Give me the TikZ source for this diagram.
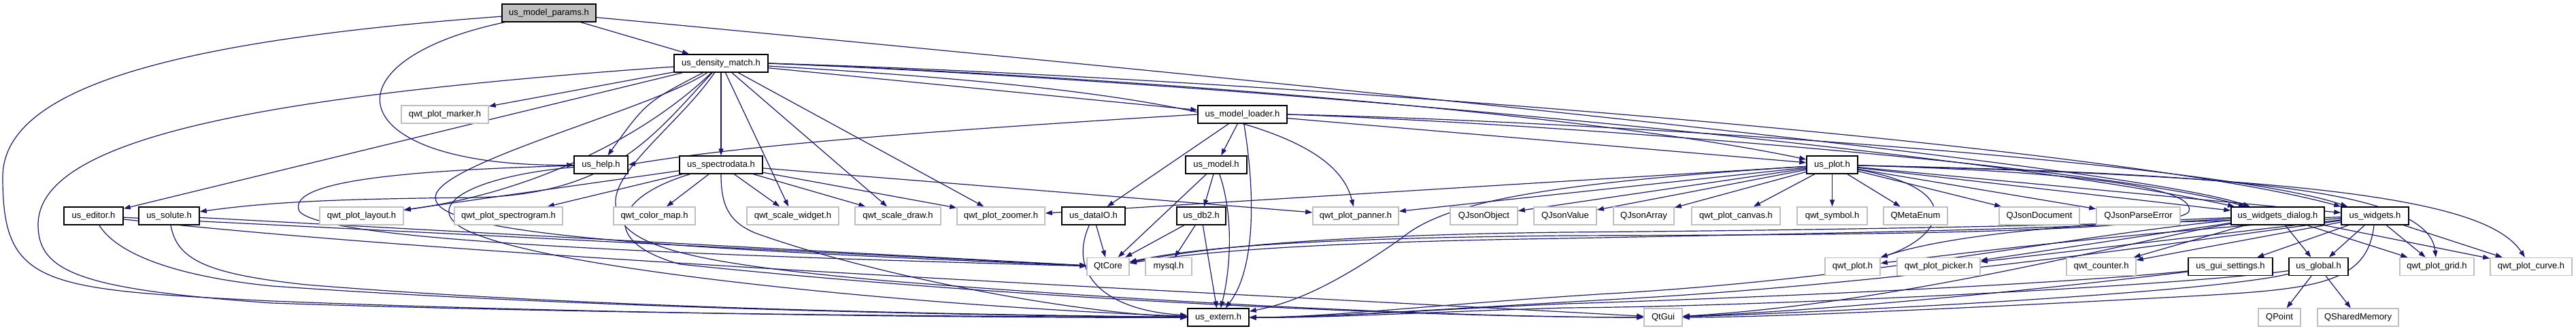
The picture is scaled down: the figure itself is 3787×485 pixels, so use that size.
\documentclass[tikz,border=0pt]{standalone}
\usepackage{fontspec}
\setmainfont{Liberation Sans}
\usetikzlibrary{arrows.meta}
\definecolor{edgecol}{HTML}{191970}
\definecolor{extgrey}{HTML}{BFBFBF}
\definecolor{rootfill}{HTML}{BFBFBF}
\pgfdeclarelayer{back}
\pgfdeclarelayer{bg}
\pgfsetlayers{back,bg,main}
\tikzset{
  nd/.style={rectangle, draw=black, line width=1.5pt, fill=white, minimum height=26pt, inner sep=0pt, font=\fontsize{13}{15}\selectfont},
  xt/.style={nd, draw=extgrey},
  rt/.style={nd, fill=rootfill},
  e/.style={draw=edgecol, line width=1.2pt, -{Triangle[length=10pt,width=7pt]}},
}
\begin{document}
\begin{tikzpicture}[x=1pt,y=-1pt]
\begin{pgfonlayer}{back}
\fill[white] (0,0) rectangle (3787,485);
\end{pgfonlayer}
\useasboundingbox (0,0) rectangle (3787,485);
% rank 0-3
\node[rt, minimum width=138pt] (MP) at (807,19) {us\_model\_params.h};
\node[nd, minimum width=138pt] (DM) at (1060,93) {us\_density\_match.h};
\node[xt, minimum width=128pt] (marker) at (654,168) {qwt\_plot\_marker.h};
\node[nd, minimum width=131pt] (ML) at (1826.5,168) {us\_model\_loader.h};
\node[nd, minimum width=79pt] (help) at (883.5,242) {us\_help.h};
\node[nd, minimum width=122pt] (SD) at (1060,242) {us\_spectrodata.h};
\node[nd, minimum width=90pt] (model) at (1788,242) {us\_model.h};
\node[nd, minimum width=75pt] (plot) at (2693.5,242) {us\_plot.h};
% rank 4
\node[nd, minimum width=87pt] (editor) at (137.5,317) {us\_editor.h};
\node[nd, minimum width=89pt] (solute) at (248.5,317) {us\_solute.h};
\node[xt, minimum width=123pt] (layout) at (531.5,317) {qwt\_plot\_layout.h};
\node[xt, minimum width=159pt] (spectro) at (747.5,317) {qwt\_plot\_spectrogram.h};
\node[xt, minimum width=120pt] (cmap) at (962,317) {qwt\_color\_map.h};
\node[xt, minimum width=135pt] (swidget) at (1165.5,317) {qwt\_scale\_widget.h};
\node[xt, minimum width=126pt] (sdraw) at (1320,317) {qwt\_scale\_draw.h};
\node[xt, minimum width=129pt] (zoomer) at (1471.5,317) {qwt\_plot\_zoomer.h};
\node[nd, minimum width=93pt] (dataIO) at (1607.5,317) {us\_dataIO.h};
\node[nd, minimum width=72pt] (db2) at (1766,317) {us\_db2.h};
\node[xt, minimum width=126pt] (panner) at (1993,317) {qwt\_plot\_panner.h};
\node[xt, minimum width=99pt] (jobj) at (2181.5,317) {QJsonObject};
\node[xt, minimum width=92pt] (jval) at (2301,317) {QJsonValue};
\node[xt, minimum width=89pt] (jarr) at (2416.5,317) {QJsonArray};
\node[xt, minimum width=130pt] (canvas) at (2552,317) {qwt\_plot\_canvas.h};
\node[xt, minimum width=103pt] (symbol) at (2693.5,317) {qwt\_symbol.h};
\node[xt, minimum width=94pt] (menum) at (2816,317) {QMetaEnum};
\node[xt, minimum width=118pt] (jdoc) at (2998,317) {QJsonDocument};
\node[xt, minimum width=123pt] (jerr) at (3143.5,317) {QJsonParseError};
\node[nd, minimum width=137pt] (WD) at (3348.5,317) {us\_widgets\_dialog.h};
\node[nd, minimum width=99pt] (W) at (3491.5,317) {us\_widgets.h};
% rank 5
\node[xt, minimum width=62pt] (QtCore) at (1629,391.5) {QtCore};
\node[xt, minimum width=68pt] (mysql) at (1718,391.5) {mysql.h};
\node[xt, minimum width=81pt] (qplot) at (2723.5,391.5) {qwt\_plot.h};
\node[xt, minimum width=122pt] (picker) at (2850,391.5) {qwt\_plot\_picker.h};
\node[xt, minimum width=102pt] (counter) at (3089,391.5) {qwt\_counter.h};
\node[nd, minimum width=124pt] (gui) at (3279,391.5) {us\_gui\_settings.h};
\node[nd, minimum width=87pt] (global) at (3408.5,391.5) {us\_global.h};
\node[xt, minimum width=109pt] (grid) at (3582.5,391.5) {qwt\_plot\_grid.h};
\node[xt, minimum width=120pt] (curve) at (3721,391.5) {qwt\_plot\_curve.h};
% rank 6
\node[nd, minimum width=90pt] (extern) at (1791,466) {us\_extern.h};
\node[xt, minimum width=56pt] (QtGui) at (2445,466) {QtGui};
\node[xt, minimum width=62pt] (QPoint) at (3351,466) {QPoint};
\node[xt, minimum width=119pt] (QShm) at (3466.5,466) {QSharedMemory};

\begin{pgfonlayer}{bg}
% us_model_params.h
\draw[e] (MP) -- (DM);
\draw[e] (MP) .. controls (470,90) and (500,245) .. (help);
\draw[e] (MP) .. controls (250,60) and (4,130) .. (4,260) .. controls (4,420) and (60,425) .. (400,442) .. controls (900,462) and (1500,467) .. (extern);
\draw[e] (MP) .. controls (2200,150) and (3150,250) .. (WD);
% us_density_match.h
\draw[e] (DM) -- (marker);
\draw[e] (DM) -- (ML);
\draw[e] (DM) .. controls (950,150) .. (help);
\draw[e] (DM) -- (SD);
\draw[e] (DM) -- (editor);
\draw[e] (DM) .. controls (960,200) and (900,285) .. (700,290) .. controls (500,292) and (400,296) .. (solute);
\draw[e] (DM) .. controls (960,190) and (800,280) .. (layout);
\draw[e] (DM) -- (swidget);
\draw[e] (DM) -- (sdraw);
\draw[e] (DM) -- (zoomer);
\draw[e] (DM) .. controls (1700,130) and (1960,180) .. (panner);
\draw[e] (DM.east) .. controls (1700,115) and (2350,170) .. (plot);
\draw[e] (DM.east) .. controls (1800,120) and (2900,220) .. (WD);
\draw[e] (DM.east) .. controls (1800,112) and (3100,210) .. (W);
\draw[e] (DM) .. controls (400,140) and (56,200) .. (56,330) .. controls (56,400) and (120,425) .. (400,445) .. controls (900,462) and (1500,465) .. (extern);
\draw[e] (DM) .. controls (960,160) and (640,240) .. (640,290) .. controls (640,340) and (900,362) .. (QtCore);
\draw[e] (DM) .. controls (1000,180) and (900,250) .. (905,300) .. controls (910,360) and (1000,385) .. (1300,412) .. controls (1800,452) and (2200,466) .. (QtGui);
% us_model_loader.h
\draw[e] (ML.west) .. controls (1400,190) and (1100,212) .. (help.east);
\draw[e] (ML) -- (model);
\draw[e] (ML) -- (dataIO);
\draw[e] (ML) .. controls (1848,300) and (1842,400) .. (extern);
\draw[e] (ML) -- (plot);
\draw[e] (ML.east) .. controls (2300,182) and (3100,245) .. (WD);
\draw[e] (ML.east) .. controls (2300,176) and (3250,235) .. (W);
% us_model.h
\draw[e] (model) -- (QtCore);
\draw[e] (model) -- (db2);
\draw[e] (model) .. controls (1815,320) and (1808,400) .. (extern);
% us_db2.h / us_dataIO.h
\draw[e] (db2) -- (QtCore);
\draw[e] (db2) -- (mysql);
\draw[e] (db2) -- (extern);
\draw[e] (dataIO) -- (QtCore);
\draw[e] (dataIO) .. controls (1570,400) and (1620,455) .. (extern);
% us_spectrodata.h
\draw[e] (SD) -- (layout);
\draw[e] (SD) -- (spectro);
\draw[e] (SD) -- (cmap);
\draw[e] (SD) -- (swidget);
\draw[e] (SD) -- (sdraw);
\draw[e] (SD) -- (zoomer);
\draw[e] (SD) -- (panner);
\draw[e] (SD) .. controls (1060,300) and (1070,325) .. (1110,342) .. controls (1300,410) and (1600,462) .. (extern);
\draw[e] (SD) .. controls (900,290) and (880,355) .. (1000,388) .. controls (1500,440) and (2100,466) .. (QtGui);
% us_help.h
\draw[e] (help) .. controls (600,250) and (420,265) .. (440,310) .. controls (470,350) and (900,372) .. (QtCore);
\draw[e] (help) .. controls (700,258) and (620,300) .. (680,335) .. controls (800,400) and (1400,452) .. (extern);
% us_editor.h, us_solute.h
\draw[e] (editor) -- (QtCore);
\draw[e] (editor) .. controls (170,370) and (250,405) .. (400,420) .. controls (900,455) and (1500,464) .. (extern);
\draw[e] (editor) .. controls (700,380) and (1800,430) .. (QtGui);
\draw[e] (solute) -- (QtCore);
\draw[e] (solute) .. controls (260,380) and (300,402) .. (450,418) .. controls (900,455) and (1500,463) .. (extern);
% us_plot.h
\draw[e] (plot) -- (panner);
\draw[e] (plot) -- (jobj);
\draw[e] (plot) -- (jval);
\draw[e] (plot) -- (jarr);
\draw[e] (plot) -- (canvas);
\draw[e] (plot) -- (symbol);
\draw[e] (plot) -- (menum);
\draw[e] (plot) -- (jdoc);
\draw[e] (plot) -- (jerr);
\draw[e] (plot) -- (WD);
\draw[e] (plot) -- (W);
\draw[e] (plot) -- (zoomer);
\draw[e] (plot) .. controls (2900,280) and (2850,350) .. (qplot);
\draw[e] (plot) .. controls (3300,255) and (3570,280) .. (grid);
\draw[e] (plot) .. controls (3450,260) and (3660,300) .. (curve);
\draw[e] (plot) .. controls (2250,270) and (2120,300) .. (2060,350) .. controls (1960,420) and (1900,445) .. (extern);
\draw[e] (plot) .. controls (3000,250) and (3230,270) .. (3218,310) .. controls (3205,345) and (2600,345) .. (2300,346) .. controls (1900,350) and (1750,365) .. (QtCore);
% us_widgets_dialog.h
\draw[e] (WD) .. controls (3000,330) and (2850,350) .. (qplot);
\draw[e] (WD) -- (picker);
\draw[e] (WD) -- (counter);
\draw[e] (WD) -- (global);
\draw[e] (WD) -- (grid);
\draw[e] (WD) -- (curve);
\draw[e] (WD) .. controls (3000,338) and (2700,342) .. (2300,350) .. controls (1900,356) and (1750,372) .. (QtCore);
\draw[e] (WD) .. controls (3050,345) and (2750,410) .. (2350,432) .. controls (2100,448) and (1950,466) .. (extern);
\draw[e] (WD) .. controls (3150,350) and (2800,445) .. (QtGui);
% us_widgets.h
\draw[e] (W) .. controls (3100,345) and (2900,370) .. (qplot);
\draw[e] (W) -- (picker);
\draw[e] (W) -- (counter);
\draw[e] (W) -- (gui);
\draw[e] (W) -- (global);
\draw[e] (W) -- (grid);
\draw[e] (W) -- (curve);
\draw[e] (W) .. controls (3100,330) and (2700,338) .. (2300,341) .. controls (1900,346) and (1750,368) .. (QtCore);
\draw[e] (W) .. controls (3250,350) and (2800,415) .. (2400,438) .. controls (2150,452) and (1950,466) .. (extern);
\draw[e] (W) .. controls (3480,420) and (3400,425) .. (3200,436) .. controls (2900,452) and (2600,466) .. (QtGui);
% us_gui_settings.h, us_global.h
\draw[e] (gui) .. controls (3000,420) and (2500,440) .. (2300,446) .. controls (2100,455) and (1950,466) .. (extern);
\draw[e] (gui) .. controls (3000,425) and (2700,455) .. (QtGui);
\draw[e] (global) .. controls (3200,420) and (2600,450) .. (2300,452) .. controls (2100,458) and (1950,467) .. (extern);
\draw[e] (global) .. controls (3250,430) and (2700,458) .. (QtGui);
\draw[e] (global) -- (QPoint);
\draw[e] (global) -- (QShm);
\end{pgfonlayer}
\end{tikzpicture}
\end{document}
